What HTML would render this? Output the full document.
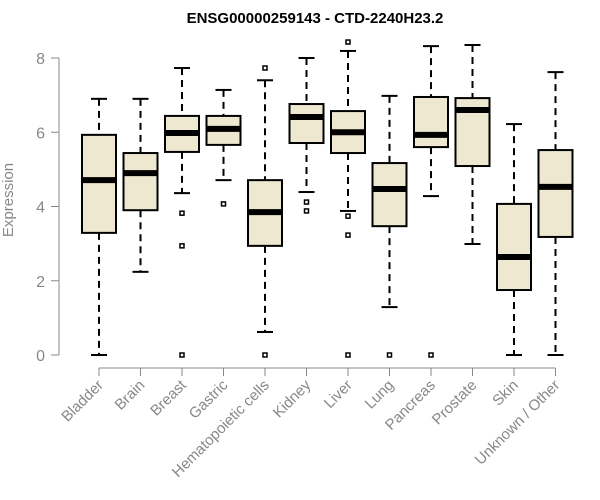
<!DOCTYPE html>
<html><head><meta charset="utf-8"><style>body{margin:0;background:#fff}svg{display:block}</style></head>
<body>
<svg id="chart" width="600" height="500" xmlns="http://www.w3.org/2000/svg" font-family="Liberation Sans, Arial, sans-serif">
<text x="315" y="23" text-anchor="middle" font-weight="bold" font-size="15">ENSG00000259143 - CTD-2240H23.2</text>
<text transform="translate(13,200) rotate(-90)" text-anchor="middle" font-size="15" fill="#888">Expression</text>
<g id="plot"></g>
</svg>
<script>
const categories = ["Bladder","Brain","Breast","Gastric","Hematopoietic cells","Kidney","Liver","Lung","Pancreas","Prostate","Skin","Unknown / Other"];
const whiskerLow = [0,2.24,4.36,4.71,0.62,4.39,3.88,1.29,4.28,2.99,0,0];
const q1 = [3.29,3.9,5.47,5.66,2.94,5.71,5.44,3.47,5.6,5.09,1.75,3.18];
const medians = [4.71,4.9,5.98,6.09,3.85,6.41,6.0,4.47,5.93,6.6,2.64,4.53];
const q3 = [5.93,5.44,6.44,6.44,4.71,6.76,6.57,5.17,6.95,6.92,4.07,5.52];
const whiskerHigh = [6.9,6.9,7.73,7.14,7.4,8.0,8.19,6.98,8.32,8.35,6.22,7.62];
const outliers = [[],[],[3.82,2.94,0],[4.07],[7.73,0],[4.12,3.88],[8.43,3.74,3.23,0],[0],[0],[],[],[]];
const yTicks = [0,2,4,6,8];

const NS="http://www.w3.org/2000/svg";
const g=document.getElementById('plot');
const y=v=>355-v*37.125;
const x=i=>99+i*41.5;
function mk(t,a){const e=document.createElementNS(NS,t);for(const k in a)e.setAttribute(k,a[k]);g.appendChild(e);return e;}
let ax=mk('line',{x1:59,x2:59,y1:y(0),y2:y(8),stroke:'#888'});


yTicks.forEach(t=>{
  const l=mk('line',{x1:51,x2:59,y1:y(t),y2:y(t),stroke:'#888'});
  
  
  const tx=mk('text',{x:45,y:y(t)+6,'text-anchor':'end','font-size':16,fill:'#888'});
  tx.textContent=t;
  
  
});
let xa=mk('line',{x1:x(0),x2:x(categories.length-1),y1:368,y2:368,stroke:'#888'});


categories.forEach((c,i)=>{
  const cx=x(i);
  const t=mk('line',{x1:cx,x2:cx,y1:368,y2:376,stroke:'#888'});
  
  
  const lb=mk('text',{transform:`translate(${cx+5},${386}) rotate(-45)`,'text-anchor':'end','font-size':15,fill:'#888'});
  lb.textContent=c;
  
  
  const w=mk('line',{x1:cx,x2:cx,y1:y(whiskerHigh[i]),y2:y(q3[i]),stroke:'#000','stroke-width':2,'stroke-dasharray':'7,5'});
  
  
  const w2=mk('line',{x1:cx,x2:cx,y1:y(q1[i]),y2:y(whiskerLow[i]),stroke:'#000','stroke-width':2,'stroke-dasharray':'7,5'});
  
  
  [whiskerHigh[i],whiskerLow[i]].forEach(v=>{
    const c2=mk('line',{x1:cx-8,x2:cx+8,y1:y(v),y2:y(v),stroke:'#000','stroke-width':2});
    
    
  });
  const b=mk('rect',{x:cx-17,y:y(q3[i]),width:34,height:y(q1[i])-y(q3[i]),fill:'#EEE8D0',stroke:'#000','stroke-width':2});
  
  
  const m=mk('line',{x1:cx-17,x2:cx+17,y1:y(medians[i]),y2:y(medians[i]),stroke:'#000','stroke-width':6});
  
  
  outliers[i].forEach(v=>{
    const o=mk('rect',{x:cx-2,y:y(v)-2,width:4,height:4,fill:'none',stroke:'#000','stroke-width':1.5});
    
    
  });
});
</script>
</body></html>
